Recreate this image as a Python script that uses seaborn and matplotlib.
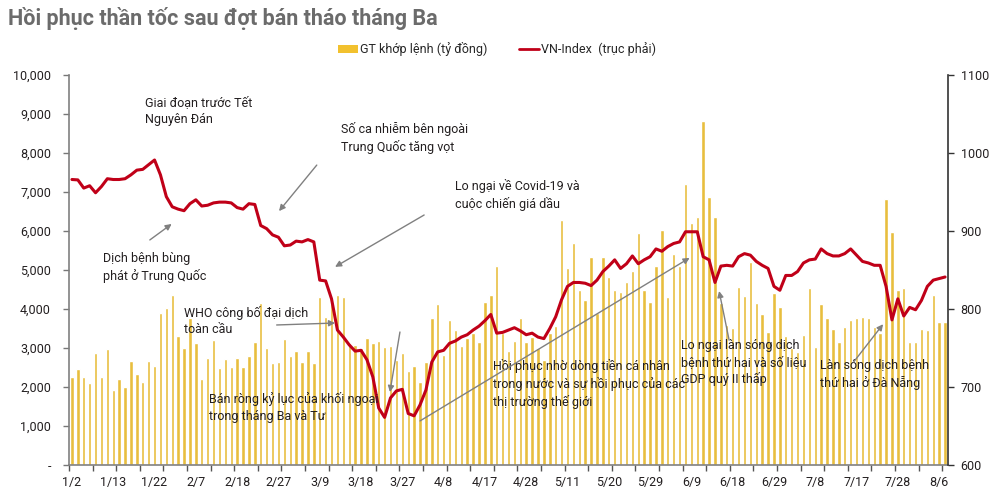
import pandas as pd
import numpy as np
import matplotlib
matplotlib.use("Agg")
from matplotlib import pyplot as plt
from matplotlib.patches import Patch
from matplotlib.lines import Line2D
import seaborn as sns

# trading days (HOSE closed for Tet, Hung Kings day, 30/4 - 1/5)
holidays = ["2020-01-23", "2020-01-24", "2020-01-27", "2020-01-28", "2020-01-29",
            "2020-04-02", "2020-04-30", "2020-05-01"]
dates = pd.bdate_range("2020-01-02", "2020-08-07", freq="C", holidays=holidays)
day_labels = [f"{d.month}/{d.day}" for d in dates]

# GT khop lenh (ty dong)
matched_value = [
    2250, 2460, 2250, 2100, 2870, 2260, 2970, 1920, 2200, 2000,
    2670, 2330, 2120, 2670, 2540, 3890, 4020, 4350, 3320, 2990,
    3770, 3120, 2200, 2740, 3200, 2480, 2710, 2500, 2740, 2510,
    2800, 3150, 4150, 2990, 2610, 2650, 3230, 2800, 2920, 2650,
    2920, 2620, 4310, 3800, 4150, 4350, 4310, 3120, 3080, 2990,
    3260, 3130, 3180, 3030, 3050, 2690, 2870, 2410, 2540, 2120,
    2650, 3760, 4120, 2820, 3720, 3460, 3050, 3250, 3380, 3160,
    4170, 4350, 5100, 3380, 2920, 3190, 3760, 3150, 3270, 3000,
    2700, 3380, 3570, 6280, 5040, 5700, 4490, 4230, 5340, 3890,
    5340, 4830, 4490, 4440, 4700, 4980, 5960, 4490, 4190, 5110,
    6030, 4320, 5400, 5100, 7200, 6200, 6350, 8830, 6880, 6350,
    4150, 3590, 3500, 4570, 4330, 5200, 4160, 3870, 3400, 4400,
    4040, 3300, 3000, 2900, 3330, 4550, 3030, 4120, 3780, 3480,
    3150, 3530, 3720, 3760, 3800, 3760, 3550, 3380, 6810, 5980,
    4490, 4530, 3160, 3160, 3480, 3460, 4360, 3670, 3670,
]

# VN-Index (truc phai)
vn_index = [
    966, 965.5, 955, 958, 949, 957, 967, 966, 966, 967,
    972, 978, 979, 985, 991, 972, 944, 931, 928, 926,
    935, 940, 932, 933, 936, 937, 937, 936, 930, 928,
    935, 934, 907, 903, 895, 892, 881, 882, 887, 886,
    889, 886, 837, 836, 813, 773, 764, 754, 746, 747,
    735, 713, 673, 661, 686, 695, 697, 666, 663, 677,
    696, 732, 745, 747, 756, 759, 764, 767, 773, 778,
    785, 793, 769, 770, 773, 776, 772, 767, 769, 764,
    762, 775, 790, 812, 829, 834, 834, 833, 830, 837,
    848, 855, 863, 852, 858, 868, 858, 863, 867, 877,
    874, 880, 884, 886, 899, 899, 899, 867, 863, 834,
    855, 856, 855, 867, 871, 869, 861, 856, 852, 829,
    824, 843, 843, 848, 859, 863, 864, 877, 871, 868,
    868, 871, 877, 869, 861, 859, 856, 856, 829, 786,
    813, 791, 802, 799, 811, 829, 837, 839, 841,
]

left_ticks = [0, 1000, 2000, 3000, 4000, 5000, 6000, 7000, 8000, 9000, 10000]
right_ticks = [600, 700, 800, 900, 1000, 1100]

bar_color = "#E8BE3E"
line_color = "#C00018"
text_color = "#231F20"
arrow_color = "#808080"

df = pd.DataFrame({"Ngay": day_labels, "GT": matched_value,
                   "VNI": vn_index, "pos": np.arange(len(day_labels))})

sns.set_style("white")
plt.rcParams["font.family"] = ["Roboto", "DejaVu Sans"]

fig = plt.figure(figsize=(10, 4.92), dpi=100)
ax = fig.add_axes([0.069, 0.0549, 0.879, 0.7927])
sns.barplot(data=df, x="Ngay", y="GT", color=bar_color, saturation=1,
            width=0.58, ax=ax)
ax2 = ax.twinx()
sns.lineplot(data=df, x="pos", y="VNI", color=line_color, lw=2.2, ax=ax2)

ax.set_xlim(-0.5, len(day_labels) - 0.5)
ax.set_ylim(0, 10000)
ax2.set_ylim(600, 1100)
ax.set_xlabel("")
ax.set_ylabel("")
ax2.set_xlabel("")
ax2.set_ylabel("")

ax.set_xticks(range(0, len(day_labels), 7))
ax.set_xticklabels(day_labels[::7], fontsize=9, color=text_color)
ax.set_xticks(np.arange(-0.5, len(day_labels), 4), minor=True)
ax.tick_params(axis="x", which="major", length=0, pad=8)
ax.tick_params(axis="x", which="minor", length=4, width=1, color="#555555",
               direction="out", bottom=True)

ax.set_yticks(left_ticks)
ax.set_yticklabels(["-" if v == 0 else f"{v:,}" for v in left_ticks],
                   fontsize=9, color=text_color)
ax.tick_params(axis="y", length=4, width=1, color="#777777", left=True,
               direction="out", pad=9)
ax2.set_yticks(right_ticks)
ax2.set_yticklabels([str(v) for v in right_ticks], fontsize=9, color=text_color)
ax2.tick_params(axis="y", length=4, width=1, color="#333333", right=True,
                direction="out", pad=5)

for a in (ax, ax2):
    a.spines["top"].set_visible(False)
    a.grid(False)
ax.spines["right"].set_visible(False)
ax2.spines["left"].set_visible(False)
ax2.spines["bottom"].set_visible(False)
ax.spines["left"].set_color("#808080")
ax.spines["bottom"].set_color("#808080")
ax2.spines["right"].set_color("#333333")
for s in ("left", "bottom"):
    ax.spines[s].set_linewidth(1.2)
ax2.spines["right"].set_linewidth(1.2)

# notes (positions in bar index / left-axis units)
notes = [
    (12.4, 9460, "Giai đoạn trước Tết\nNguyên Đán"),
    (45.6, 8800, "Số ca nhiễm bên ngoài\nTrung Quốc tăng vọt"),
    (5.2, 5470, "Dịch bệnh bùng\nphát ở Trung Quốc"),
    (64.9, 7330, "Lo ngại về Covid-19 và\ncuộc chiến giá dầu"),
    (19.0, 4080, "WHO công bố đại dịch\ntoàn cầu"),
    (23.2, 1870, "Bán ròng kỷ lục của khối ngoại\ntrong tháng Ba và Tư"),
    (71.4, 2720, "Hồi phục nhờ dòng tiền cá nhân\ntrong nước và sự hồi phục của các\nthị trường thế giới"),
    (103.2, 3230, "Lo ngại làn sóng dịch\nbệnh thứ hai và số liệu\nGDP quý II thấp"),
    (126.8, 2720, "Làn sóng dịch bệnh\nthứ hai ở Đà Nẵng"),
]
for x, y, s in notes:
    ax2.text(x, y, s, transform=ax.transData, fontsize=9, color=text_color,
             va="top", ha="left", linespacing=1.35, zorder=6)

arrows = [
    ((41.5, 7690), (35.1, 6510)),
    ((13.2, 5770), (16.9, 6180)),
    ((59.7, 6410), (44.6, 5080)),
    ((34.7, 3590), (44.6, 3640)),
    ((55.6, 3410), (53.9, 1870)),
    ((59.0, 1130), (104.7, 5310)),
    ((111.4, 3200), (109.7, 4460)),
    ((132.5, 2640), (137.5, 3610)),
]
for start, end in arrows:
    ax2.annotate("", xy=end, xytext=start, xycoords=ax.transData,
                 textcoords=ax.transData,
                 arrowprops=dict(arrowstyle="-|>", color=arrow_color, lw=1,
                                 mutation_scale=9, shrinkA=0, shrinkB=0),
                 zorder=6)

handles = [Patch(facecolor="#F2C12E", edgecolor="none"),
           Line2D([0], [0], color=line_color, lw=2)]
fig.legend(handles, ["GT khớp lệnh (tỷ đồng)", "VN-Index  (trục phải)"],
           loc="center", bbox_to_anchor=(0.497, 0.90), ncol=2, frameon=False,
           fontsize=9, handlelength=1.6, handleheight=0.6, handletextpad=0.15,
           columnspacing=2.5)

fig.text(0.008, 1 - 18 / 492, "Hồi phục thần tốc sau đợt bán tháo tháng Ba",
         fontsize=15.5, fontweight="bold", color="#6B6B6B", va="center", ha="left")

plt.savefig("out.png", dpi=100)
